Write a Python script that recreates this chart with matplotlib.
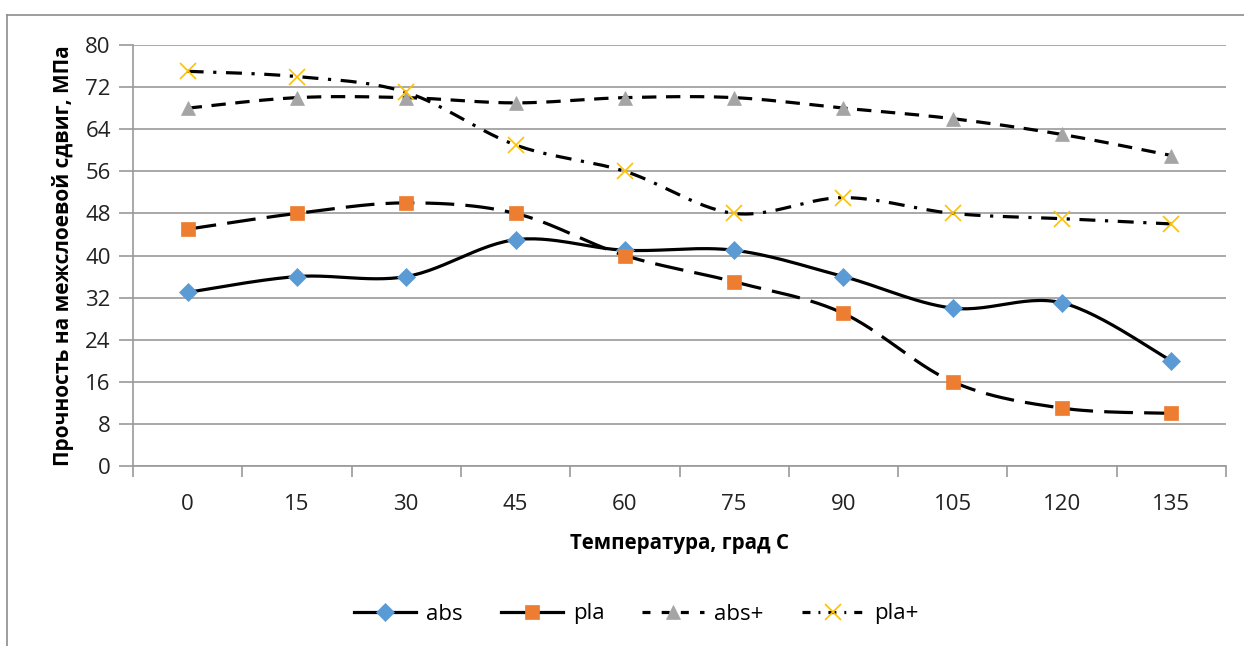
import numpy as np
import matplotlib
matplotlib.use('Agg')
import matplotlib.pyplot as plt
from matplotlib.lines import Line2D

plt.rcParams['font.family'] = ['Open Sans', 'DejaVu Sans']

# data
temps = ['0', '15', '30', '45', '60', '75', '90', '105', '120', '135']
abs_vals = [33, 36, 36, 43, 41, 41, 36, 30, 31, 20]
pla_vals = [45, 48, 50, 48, 40, 35, 29, 16, 11, 10]
abs_plus = [68, 70, 70, 69, 70, 70, 68, 66, 63, 59]
pla_plus = [75, 74, 71, 61, 56, 48, 51, 48, 47, 46]


def smooth(xs, ys, n=30):
    # excel-like smoothing: bezier segments with catmull-rom control points
    p = np.column_stack([xs, ys]).astype(float)
    p = np.vstack([p[0], p, p[-1]])
    out = []
    t = np.linspace(0, 1, n)[:, None]
    for i in range(1, len(p) - 2):
        p0, p1 = p[i], p[i + 1]
        c1 = p0 + (p[i + 1] - p[i - 1]) / 6
        c2 = p1 - (p[i + 2] - p[i]) / 6
        seg = (1 - t) ** 3 * p0 + 3 * (1 - t) ** 2 * t * c1 + 3 * (1 - t) * t ** 2 * c2 + t ** 3 * p1
        out.append(seg if i == 1 else seg[1:])
    out = np.vstack(out)
    return out[:, 0], out[:, 1]


fig = plt.figure(figsize=(12.44, 6.46), dpi=100)
ax = fig.add_axes([133 / 1244, 1 - 466 / 646, (1226 - 133) / 1244, (466 - 45) / 646])

x = np.arange(len(temps))
lw = 2.3
series = [
    (abs_vals, '-', 'D', '#5B9BD5', 9, 'abs'),
    (pla_vals, (0, (9, 3.5)), 's', '#ED7D31', 9.5, 'pla'),
    (abs_plus, (0, (4.5, 3)), '^', '#A5A5A5', 10, 'abs+'),
    (pla_plus, (0, (5, 3, 1, 3)), 'x', '#FFC000', 11, 'pla+'),
]
for vals, ls, mk, col, ms, name in series:
    sx, sy = smooth(x, vals)
    ax.plot(sx, sy, color='black', lw=lw, linestyle=ls, zorder=3)
    ax.plot(x, vals, linestyle='none', marker=mk, color=col, markersize=ms,
            markeredgewidth=1.2 if mk == 'x' else 0.5, markeredgecolor=col, zorder=4)

ax.set_xlim(-0.5, len(temps) - 0.5)
ax.set_ylim(0, 80)
ax.set_yticks(range(0, 81, 8))
ax.set_xticks(x)
ax.set_xticklabels(temps)
ax.set_xticks(np.arange(-0.5, len(temps), 1), minor=True)
ax.tick_params(axis='x', which='major', length=0, pad=20, labelsize=16, labelcolor='#222222')
ax.tick_params(axis='x', which='minor', length=8, color='#9a9a9a', width=1.2)
ax.tick_params(axis='y', length=10, color='#9a9a9a', width=1.2, pad=6, labelsize=16, labelcolor='#222222')
ax.grid(axis='y', color='#9a9a9a', lw=1.2)
ax.set_axisbelow(True)
for s in ['top', 'right']:
    ax.spines[s].set_visible(False)
for s in ['left', 'bottom']:
    ax.spines[s].set_color('#9a9a9a')
    ax.spines[s].set_linewidth(1.2)

ax.set_xlabel('Температура, град С', fontsize=14.8, fontweight='bold', labelpad=13)
ax.set_ylabel('Прочность на межслоевой сдвиг, МПа', fontsize=15, fontweight='bold', labelpad=8)

# legend (the excel legend shows pla with a solid line)
leg_styles = ['-', '-', (0, (2.5, 3.5)), (0, (2.5, 2.5, 0.6, 2.5))]
handles = []
for (vals, ls, mk, col, ms, name), lls in zip(series, leg_styles):
    handles.append(Line2D([], [], color='black', lw=lw, linestyle=lls, marker=mk,
                          markerfacecolor=col, markeredgecolor=col, markersize=ms,
                          markeredgewidth=1.2 if mk == 'x' else 0.5))
fig.legend(handles, [s[5] for s in series], loc='center', bbox_to_anchor=(636 / 1244, 1 - 614 / 646),
           ncol=4, frameon=False, fontsize=16, handlelength=2.8, columnspacing=1.7, handletextpad=0.45)

# outer chart border (only top and left edges visible)
fig.add_artist(Line2D([7.5 / 1244, 7.5 / 1244], [0, 1 - 15 / 646], color='#8c8c8c', lw=1.2, transform=fig.transFigure))
fig.add_artist(Line2D([7.5 / 1244, 1], [1 - 15 / 646, 1 - 15 / 646], color='#8c8c8c', lw=1.2, transform=fig.transFigure))

fig.savefig('out.png', dpi=100)
